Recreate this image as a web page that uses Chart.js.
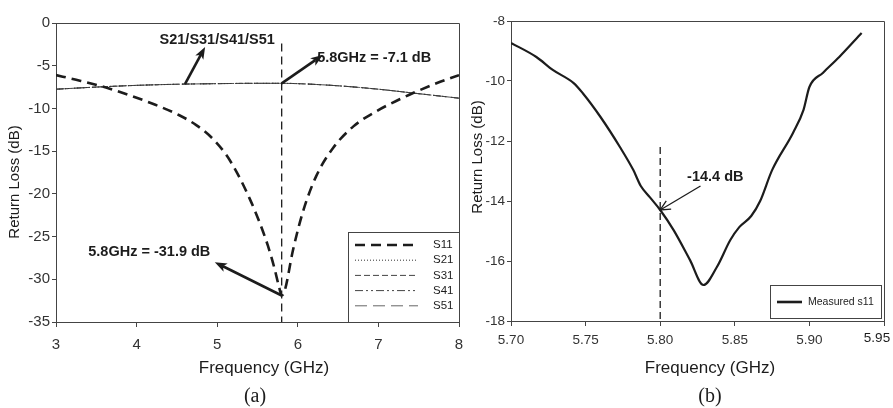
<!DOCTYPE html>
<html lang="en">
<head>
<meta charset="UTF-8">
<title>Return Loss</title>
<script src="https://cdn.jsdelivr.net/npm/chart.js"></script>
<style>
    body { margin: 0; background: #fff; }
    #wrap { position: relative; width: 893px; height: 408px; overflow: hidden; }
    #chartA { position: absolute; left: 0; top: 0; }
    #chartB { position: absolute; left: 455px; top: 0; }
</style>
</head>
<body>
<div id="wrap">
    <canvas id="chartA" width="470" height="408"></canvas>
    <canvas id="chartB" width="438" height="408"></canvas>
</div>
<script>
// (a) simulated S parameters
const s11Freq = [3.0, 3.25, 3.62, 3.91, 4.24, 4.53, 4.74, 4.94, 5.11, 5.25, 5.4, 5.52, 5.63, 5.71, 5.77, 5.8,
                 5.84, 5.94, 6.07, 6.23, 6.44, 6.69, 6.98, 7.27, 7.43, 7.72, 8.0];
const s11Loss = [-6.1, -6.65, -7.55, -8.45, -9.6, -10.8, -11.95, -13.5, -15.4, -17.6, -20.5, -23.2, -26.1, -28.7, -31.0, -31.9,
                 -31.25, -26.6, -21.9, -17.9, -14.6, -12.1, -10.3, -8.9, -8.2, -7.06, -6.1];
// S21, S31, S41 and S51 lie on top of each other
const s21Freq = [3.0, 3.5, 4.0, 4.5, 5.0, 5.5, 5.8, 6.0, 6.5, 7.0, 7.43, 8.0];
const s21Loss = [-7.75, -7.5, -7.3, -7.17, -7.1, -7.06, -7.06, -7.1, -7.35, -7.75, -8.2, -8.8];
const seriesA = ['S11', 'S21', 'S31', 'S41', 'S51'];

// (b) measured s11
const measFreq = [5.700, 5.717, 5.728, 5.742, 5.748, 5.760, 5.773, 5.782, 5.787, 5.793, 5.800, 5.809, 5.820,
                  5.829, 5.838, 5.847, 5.853, 5.861, 5.867, 5.875, 5.889, 5.896, 5.900, 5.909, 5.920, 5.935];
const measLoss = [-8.73, -9.2, -9.63, -10.07, -10.4, -11.2, -12.2, -12.97, -13.5, -13.87, -14.3, -14.97, -15.97,
                  -16.8, -16.2, -15.3, -14.87, -14.5, -14.0, -12.97, -11.73, -10.97, -10.2, -9.73, -9.2, -8.4];

const markFreq = 5.8;

const pts = (xs, ys) => xs.map((x, i) => ({ x: x, y: ys[i] }));
const SANS = '"Liberation Sans", Arial, sans-serif';
const INK = '#1c1c1c';

function drawArrow(ctx, x1, y1, x2, y2, width, filled) {
    const ang = Math.atan2(y2 - y1, x2 - x1);
    const len = filled ? 13 : 11;
    const spread = filled ? 0.36 : 0.45;
    ctx.save();
    ctx.strokeStyle = INK;
    ctx.fillStyle = INK;
    ctx.setLineDash([]);
    ctx.lineWidth = width;
    ctx.beginPath();
    ctx.moveTo(x1, y1);
    if (filled) ctx.lineTo(x2 - Math.cos(ang) * len * 0.7, y2 - Math.sin(ang) * len * 0.7);
    else ctx.lineTo(x2, y2);
    ctx.stroke();
    ctx.beginPath();
    ctx.moveTo(x2 - len * Math.cos(ang - spread), y2 - len * Math.sin(ang - spread));
    ctx.lineTo(x2, y2);
    ctx.lineTo(x2 - len * Math.cos(ang + spread), y2 - len * Math.sin(ang + spread));
    if (filled) {
        ctx.lineTo(x2 - len * 0.7 * Math.cos(ang), y2 - len * 0.7 * Math.sin(ang));
        ctx.closePath();
        ctx.fill();
    } else {
        ctx.lineWidth = 1.3;
        ctx.stroke();
    }
    ctx.restore();
}

function drawFrame(chart) {
    const a = chart.chartArea, ctx = chart.ctx;
    ctx.save();
    ctx.strokeStyle = '#444';
    ctx.lineWidth = 1;
    ctx.beginPath();
    ctx.moveTo(Math.round(a.left), Math.round(a.top) + 0.5);
    ctx.lineTo(Math.round(a.right) + 0.5, Math.round(a.top) + 0.5);
    ctx.lineTo(Math.round(a.right) + 0.5, Math.round(a.bottom));
    ctx.stroke();
    ctx.restore();
}

function drawMarker(chart, yTop, yBottom, dash) {
    const xs = chart.scales.x, ys = chart.scales.y, ctx = chart.ctx;
    const px = xs.getPixelForValue(markFreq);
    ctx.save();
    ctx.strokeStyle = INK;
    ctx.lineWidth = 1.3;
    ctx.setLineDash(dash);
    ctx.beginPath();
    ctx.moveTo(px, ys.getPixelForValue(yTop));
    ctx.lineTo(px, ys.getPixelForValue(yBottom));
    ctx.stroke();
    ctx.restore();
}

function drawText(ctx, txt, x, y, font, align, rot) {
    ctx.save();
    ctx.fillStyle = INK;
    ctx.font = font;
    ctx.textAlign = align || 'center';
    ctx.textBaseline = 'middle';
    ctx.translate(x, y);
    if (rot) ctx.rotate(rot);
    ctx.fillText(txt, 0, 0);
    ctx.restore();
}

// ---------- chart (a) ----------
const notesA = [
    { text: 'S21/S31/S41/S51', tx: 5.0, ty: -2.0, align: 'center', from: [4.6, -7.15], to: [4.85, -2.8] },
    { text: '5.8GHz = -7.1 dB', tx: 6.24, ty: -4.1, align: 'left', from: [5.8, -7.06], to: [6.31, -3.75] },
    { text: '5.8GHz = -31.9 dB', tx: 3.4, ty: -26.8, align: 'left', from: [5.8, -31.9], to: [4.97, -28.0] }
];

const decorA = {
    id: 'decorA',
    afterDatasetsDraw(chart) {
        const ctx = chart.ctx, xs = chart.scales.x, ys = chart.scales.y;
        drawFrame(chart);
        drawMarker(chart, -2.4, -35, [8, 5]);

        notesA.forEach(n => {
            drawArrow(ctx, xs.getPixelForValue(n.from[0]), ys.getPixelForValue(n.from[1]),
                xs.getPixelForValue(n.to[0]), ys.getPixelForValue(n.to[1]), 2.6, true);
            drawText(ctx, n.text, xs.getPixelForValue(n.tx), ys.getPixelForValue(n.ty),
                'bold 14.5px ' + SANS, n.align);
        });

        // legend box in the lower right corner
        const a = chart.chartArea;
        const bx = 348, by = 232;
        ctx.save();
        ctx.fillStyle = '#fff';
        ctx.fillRect(bx, by, a.right - bx, a.bottom - by);
        ctx.strokeStyle = '#444';
        ctx.lineWidth = 1;
        ctx.strokeRect(bx + 0.5, by + 0.5, a.right - bx, a.bottom - by);
        chart.data.datasets.forEach((ds, i) => {
            const y = 245 + i * 15.2;
            ctx.strokeStyle = ds.borderColor;
            ctx.lineWidth = ds.borderWidth;
            ctx.setLineDash(ds.borderDash);
            ctx.beginPath();
            ctx.moveTo(355, y);
            ctx.lineTo(418, y);
            ctx.stroke();
            ctx.setLineDash([]);
            drawText(ctx, ds.label, 433, y, '11.5px ' + SANS, 'left');
        });
        ctx.restore();

        drawText(ctx, 'Frequency (GHz)', 264, 368, '17px ' + SANS);
        drawText(ctx, 'Return Loss (dB)', 15, 182, '15px ' + SANS, 'center', -Math.PI / 2);
        drawText(ctx, '(a)', 255, 397, '20px "Liberation Serif", "Times New Roman", serif');
    }
};

const dashA = [[10, 6], [1, 2], [6, 3], [8, 3, 2, 3, 2, 3], [12, 6]];
const colorA = [INK, '#333', '#444', '#444', '#666'];

new Chart(document.getElementById('chartA').getContext('2d'), {
    type: 'line',
    data: {
        datasets: seriesA.map((name, i) => ({
            label: name,
            data: i === 0 ? pts(s11Freq, s11Loss) : pts(s21Freq, s21Loss),
            borderColor: colorA[i],
            borderWidth: i === 0 ? 2.6 : 1,
            borderDash: dashA[i],
            pointRadius: 0,
            fill: false,
            cubicInterpolationMode: 'monotone'
        }))
    },
    options: {
        responsive: false,
        animation: false,
        layout: { padding: { top: 23, right: 11, left: 0, bottom: 0 } },
        plugins: { legend: { display: false }, tooltip: { enabled: false } },
        scales: {
            x: {
                type: 'linear', min: 3, max: 8,
                ticks: { stepSize: 1, color: '#333', font: { size: 15, family: SANS }, padding: 9, maxRotation: 0 },
                grid: { drawOnChartArea: false, tickLength: 5, color: '#444' },
                border: { color: '#444' },
                afterFit: s => { s.height = 86; s.paddingLeft = 0; s.paddingRight = 0; }
            },
            y: {
                min: -35, max: 0,
                ticks: { stepSize: 5, color: '#333', font: { size: 15, family: SANS }, padding: 2 },
                grid: { drawOnChartArea: false, tickLength: 4, color: '#444' },
                border: { color: '#444' },
                afterFit: s => { s.width = 56; }
            }
        }
    },
    plugins: [decorA]
});

// ---------- chart (b) ----------
const decorB = {
    id: 'decorB',
    afterDatasetsDraw(chart) {
        const ctx = chart.ctx, xs = chart.scales.x, ys = chart.scales.y;
        drawFrame(chart);
        drawMarker(chart, -12.2, -18, [7, 4]);

        drawArrow(ctx, xs.getPixelForValue(5.827), ys.getPixelForValue(-13.5),
            xs.getPixelForValue(markFreq), ys.getPixelForValue(-14.3), 1.3, false);
        drawText(ctx, '-14.4 dB', xs.getPixelForValue(5.818), ys.getPixelForValue(-13.2),
            'bold 14.5px ' + SANS, 'left');

        // last tick label is squeezed inside the picture edge
        drawText(ctx, '5.95', 422, 338, '13.5px ' + SANS);

        // legend
        const ds = chart.data.datasets[0];
        ctx.save();
        ctx.fillStyle = '#fff';
        ctx.fillRect(315, 285, 111, 33);
        ctx.strokeStyle = '#444';
        ctx.lineWidth = 1;
        ctx.strokeRect(315.5, 285.5, 111, 33);
        ctx.strokeStyle = ds.borderColor;
        ctx.lineWidth = 2.6;
        ctx.beginPath();
        ctx.moveTo(322, 302);
        ctx.lineTo(347, 302);
        ctx.stroke();
        ctx.restore();
        drawText(ctx, ds.label, 353, 302, '10.5px ' + SANS, 'left');

        drawText(ctx, 'Frequency (GHz)', 255, 368, '17px ' + SANS);
        drawText(ctx, 'Return Loss (dB)', 23, 157, '15px ' + SANS, 'center', -Math.PI / 2);
        drawText(ctx, '(b)', 255, 397, '20px "Liberation Serif", "Times New Roman", serif');
    }
};

new Chart(document.getElementById('chartB').getContext('2d'), {
    type: 'line',
    data: {
        datasets: [{
            label: 'Measured s11',
            data: pts(measFreq, measLoss),
            borderColor: INK,
            borderWidth: 2.2,
            pointRadius: 0,
            fill: false,
            cubicInterpolationMode: 'monotone'
        }]
    },
    options: {
        responsive: false,
        animation: false,
        layout: { padding: { top: 21, right: 9, left: 0, bottom: 0 } },
        plugins: { legend: { display: false }, tooltip: { enabled: false } },
        scales: {
            x: {
                type: 'linear', min: 5.7, max: 5.95,
                ticks: {
                    stepSize: 0.05, color: '#333', font: { size: 13.5, family: SANS }, padding: 6, maxRotation: 0,
                    callback: (v, i, t) => i === t.length - 1 ? '' : v.toFixed(2)
                },
                grid: { drawOnChartArea: false, tickLength: 5, color: '#444' },
                border: { color: '#444' },
                afterFit: s => { s.height = 87; s.paddingLeft = 0; s.paddingRight = 0; }
            },
            y: {
                min: -18, max: -8,
                ticks: { stepSize: 2, color: '#333', font: { size: 13.5, family: SANS }, padding: 2 },
                grid: { drawOnChartArea: false, tickLength: 4, color: '#444' },
                border: { color: '#444' },
                afterFit: s => { s.width = 56; }
            }
        }
    },
    plugins: [decorB]
});
</script>
</body>
</html>
